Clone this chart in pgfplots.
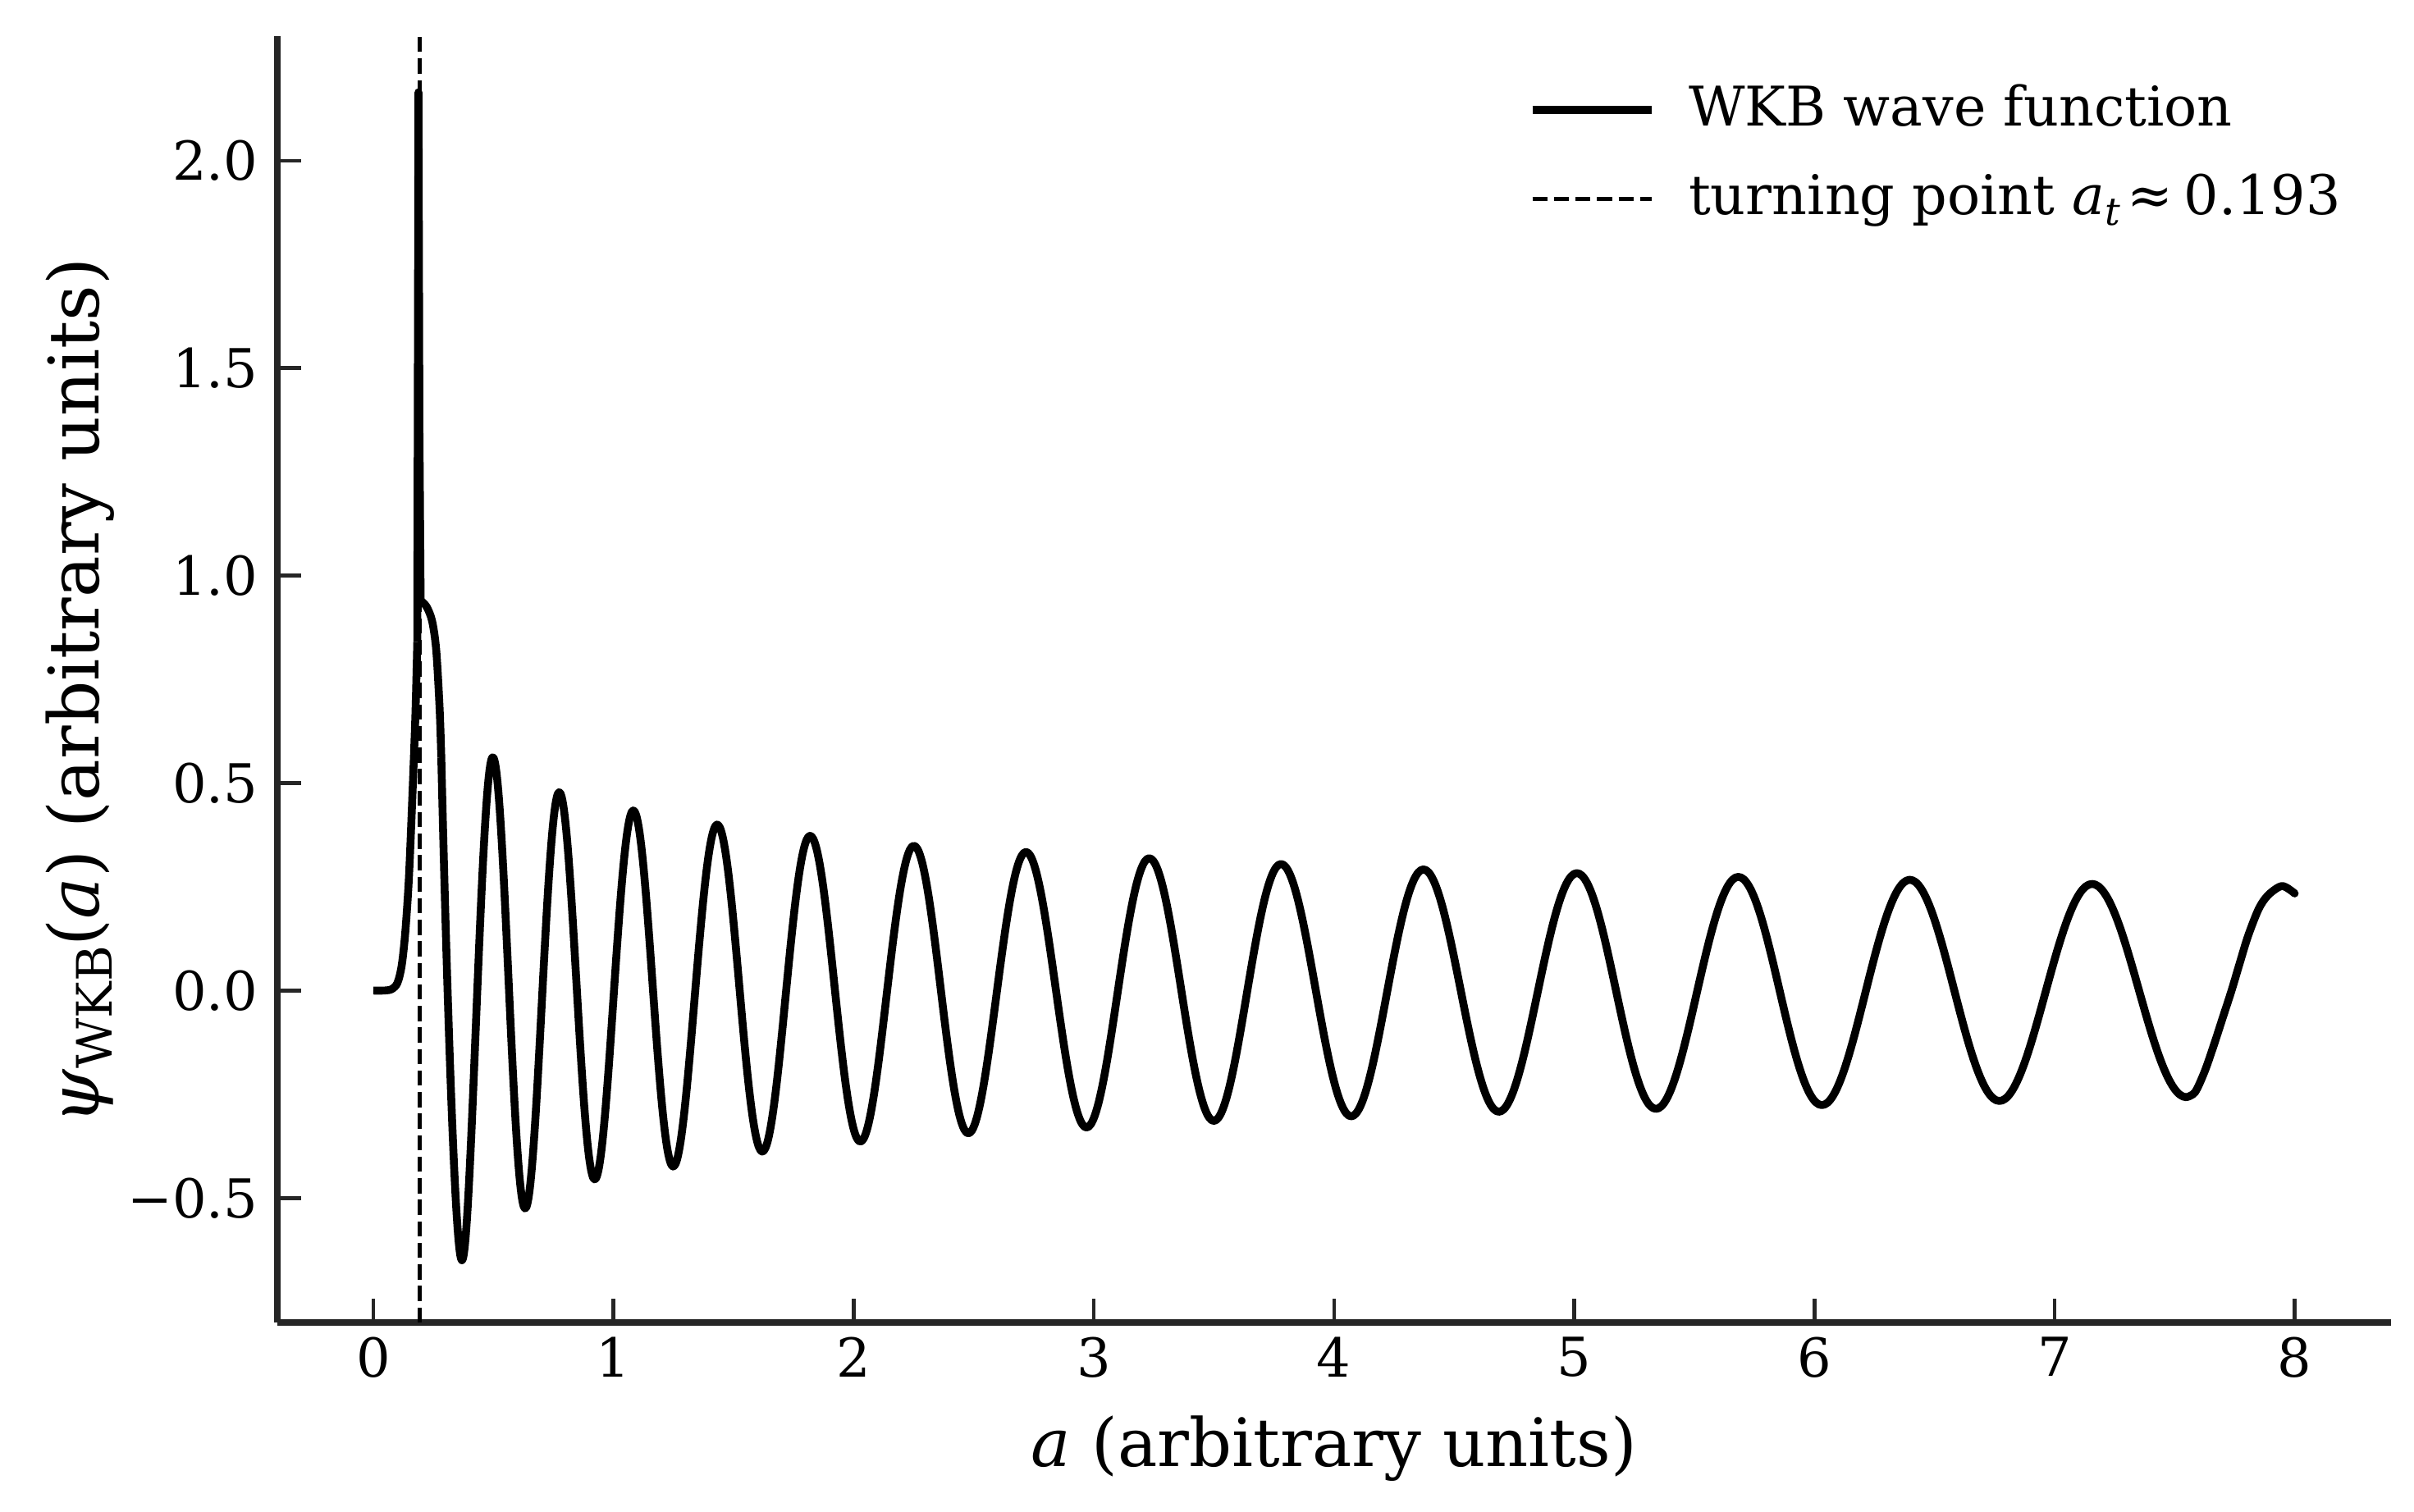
\documentclass[border=0pt]{standalone}
\usepackage{fontspec}
\setmainfont{DejaVu Serif}
\usepackage{pgfplots}
\pgfplotsset{compat=1.18}
\definecolor{spine}{RGB}{38,38,38}
\begin{document}
\begin{tikzpicture}
\begin{axis}[
  scale only axis, width=618.2pt, height=376.3pt,
  xmin=-0.4, xmax=8.4, ymin=-0.80, ymax=2.30,
  axis lines*=left,
  axis line style={spine, line width=1.75pt},
  tick align=inside,
  major tick length=7pt,
  tick style={spine, line width=1.1pt},
  xtick={0,1,2,3,4,5,6,7,8},
  xticklabels={0,1,2,3,4,5,6,7,8},
  ytick={-0.5,0,0.5,1,1.5,2},
  yticklabels={−0.5,0.0,0.5,1.0,1.5,2.0},
  xticklabel style={font=\fontsize{15.7}{18}\selectfont, anchor=north, inner sep=0pt, yshift=-4.1pt},
  yticklabel style={font=\fontsize{15.7}{18}\selectfont, anchor=east, inner sep=0pt, xshift=-5.5pt},
  xlabel={\textit{a} (arbitrary units)},
  ylabel={\textit{ψ}\raisebox{-4pt}{\fontsize{14.3}{15}\selectfont WKB}(\textit{a}) (arbitrary units)},
  xlabel style={font=\fontsize{19.5}{23}\selectfont, at={(axis description cs:0.5,-0.1121)}, anchor=base, inner sep=0pt},
  ylabel style={font=\fontsize{20.4}{23}\selectfont, at={(axis description cs:-0.0846,0.491)}, anchor=base, inner sep=0pt},
  legend style={draw=none, fill=none, at={(0.592,0.9632)}, anchor=north west, inner sep=0pt, outer sep=0pt,
    font=\fontsize{16}{19}\selectfont, row sep=10.8pt,
    nodes={inner sep=0pt, text height=12.3pt, text depth=3pt},
    /tikz/every odd column/.append style={column sep=9.6pt}},
  legend cell align=left,
  legend image code/.code={\draw[#1] (0pt,0pt) -- (35pt,0pt);},
]
% rise in the forbidden region
\addplot[black, line width=2.3pt, smooth, line join=round] coordinates {
(0,0) (0.04,0) (0.075,0.003) (0.100,0.018) (0.118,0.06) (0.133,0.14) (0.148,0.27) (0.162,0.46) (0.175,0.66) (0.183,0.84)
};
\addlegendentry{WKB wave function}
% spike at the turning point
\addplot[black, line width=2.3pt, line join=round, forget plot] coordinates {
(0.183,0.84) (0.188,2.165) (0.192,1.35) (0.197,0.94)
};
% shoulder just past the turning point
\addplot[black, line width=2.3pt, smooth, line join=round, forget plot] coordinates {
(0.197,0.94) (0.222,0.925) (0.245,0.89) (0.262,0.82) (0.276,0.68) (0.283,0.562)
};
% last rise up to a = 8
\addplot[black, line width=2.3pt, smooth, line join=round, line cap=round, forget plot] coordinates {
(7.549,-0.257) (7.585,-0.245) (7.625,-0.195) (7.663,-0.132) (7.700,-0.066) (7.737,0.000) (7.771,0.066) (7.806,0.132) (7.851,0.198) (7.891,0.231) (7.948,0.252) (8.000,0.234)
};
\addplot[black, line width=1.2pt, dash pattern=on 4.4pt off 1.9pt] coordinates {(0.193,-0.80) (0.193,2.30)};
\addlegendentry{turning point \textit{a}\raisebox{-3pt}{\fontsize{11.2}{12}\selectfont\textit{t}}\hspace{0.12em}≈\hspace{0.2em}0.193}
\end{axis}
% oscillatory region (same scale, clipped at the last trough a = 7.549)
\begin{axis}[
  scale only axis, width=558.41pt, height=376.3pt,
  xmin=-0.4, xmax=7.549, ymin=-0.80, ymax=2.30,
  hide axis,
]
\addplot[black, line width=2.3pt, smooth, tension=0.65, line join=round] coordinates {
(0.283,0.562) (0.369,-0.650)
(0.496,0.562) (0.631,-0.525) (0.773,0.478) (0.921,-0.455) (1.082,0.434) (1.248,-0.424) (1.431,0.400) (1.619,-0.388) (1.818,0.373) (2.027,-0.364)
(2.250,0.349) (2.477,-0.344) (2.717,0.334) (2.969,-0.330) (3.230,0.319) (3.499,-0.314) (3.779,0.305) (4.071,-0.303) (4.372,0.292) (4.686,-0.292)
(5.011,0.283) (5.340,-0.285) (5.683,0.274) (6.031,-0.276) (6.397,0.267) (6.770,-0.266) (7.156,0.257) (7.549,-0.257) (7.948,0.252)
};
\end{axis}
\pgfresetboundingbox
\useasboundingbox (-81.1pt,-55.2pt) rectangle (625.0pt,386.9pt);
\end{tikzpicture}
\end{document}
